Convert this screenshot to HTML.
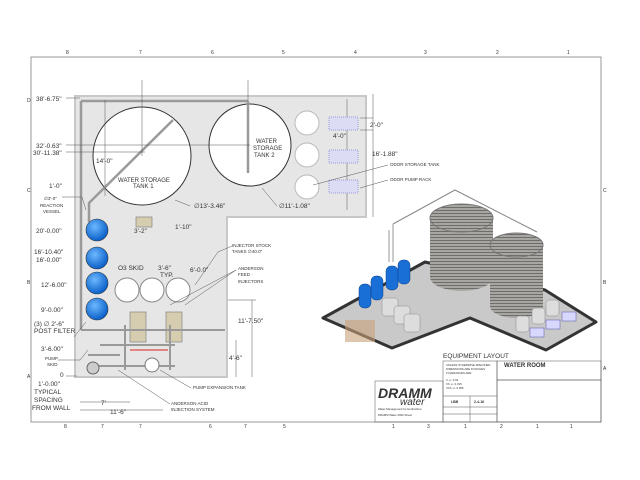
<!DOCTYPE html>
<html><head><style>
html,body{margin:0;padding:0;background:#fff}
svg{display:block}
text{font-family:"Liberation Sans",sans-serif;fill:#333}
</style></head><body>
<svg width="640" height="480" viewBox="0 0 640 480" xmlns="http://www.w3.org/2000/svg">
<defs>
<radialGradient id="bl" cx="40%" cy="35%" r="65%"><stop offset="0" stop-color="#6cb8ff"/><stop offset="1" stop-color="#0a5fc8"/></radialGradient>
<pattern id="st" width="4" height="3" patternUnits="userSpaceOnUse"><rect width="4" height="3" fill="#a8a6a2"/><rect width="4" height="1" fill="#6f6d69"/></pattern>
</defs>
<rect x="31" y="57" width="570" height="365" fill="none" stroke="#999" stroke-width="1"/>
<g font-size="5" fill="#666">
<text x="66" y="54">8</text><text x="139" y="54">7</text><text x="211" y="54">6</text><text x="282" y="54">5</text><text x="354" y="54">4</text><text x="424" y="54">3</text><text x="496" y="54">2</text><text x="567" y="54">1</text>
<text x="64" y="428">8</text><text x="101" y="428">7</text><text x="139" y="428">7</text><text x="209" y="428">6</text><text x="244" y="428">7</text><text x="283" y="428">5</text>
<text x="392" y="428">1</text><text x="427" y="428">3</text><text x="464" y="428">1</text><text x="500" y="428">2</text><text x="536" y="428">1</text><text x="570" y="428">1</text>
<text x="27" y="102">D</text><text x="27" y="192">C</text><text x="27" y="284">B</text><text x="27" y="378">A</text>
<text x="603" y="192">C</text><text x="603" y="284">B</text><text x="603" y="370">A</text>
</g>
<path d="M75,96 H366 V217 H227 V377 H75 Z" fill="#e6e6e6" stroke="#c8c8c8" stroke-width="2"/>
<path d="M81,101 H248 M81,101 V330" stroke="#9a9a9a" stroke-width="2.5" fill="none"/>
<circle cx="142" cy="156" r="49" fill="#fff" stroke="#333" stroke-width="1"/>
<circle cx="250" cy="145" r="41" fill="#fff" stroke="#333" stroke-width="1"/>
<path d="M173,120 L89,203 V222" stroke="#9a9a9a" stroke-width="2.5" fill="none"/>
<path d="M248,101 V173" stroke="#9a9a9a" stroke-width="2.5"/>
<g stroke="#555" stroke-width="0.5">
<line x1="142" y1="80" x2="142" y2="156"/><line x1="248" y1="80" x2="248" y2="101"/>
<line x1="66" y1="145" x2="250" y2="145"/><line x1="66" y1="152" x2="145" y2="152"/>
<line x1="105" y1="100" x2="105" y2="196"/>
<line x1="66" y1="98" x2="80" y2="98"/>
<line x1="373" y1="94" x2="373" y2="217"/><line x1="360" y1="118" x2="373" y2="118"/><line x1="360" y1="130" x2="373" y2="130"/>
<line x1="347" y1="99" x2="347" y2="210"/>
<line x1="252" y1="300" x2="252" y2="377"/><line x1="228" y1="300" x2="256" y2="300"/><line x1="236" y1="340" x2="236" y2="377"/>
<line x1="80" y1="402" x2="130" y2="402"/><line x1="80" y1="410" x2="163" y2="410"/>
<line x1="66" y1="376" x2="77" y2="376"/>
</g>
<g fill="#fff" stroke="#bbb"><circle cx="307" cy="123" r="12"/><circle cx="307" cy="155" r="12"/><circle cx="307" cy="187" r="12"/></g>
<g fill="#dcdcf5" stroke="#9a9ad8" stroke-dasharray="1 1"><rect x="329" y="117" width="29" height="13"/><rect x="329" y="150" width="29" height="13"/><rect x="329" y="180" width="29" height="13"/></g>
<g stroke="#333" stroke-width="0.6" fill="url(#bl)"><circle cx="97" cy="230" r="11"/><circle cx="97" cy="258" r="11"/><circle cx="97" cy="283" r="11"/><circle cx="97" cy="309" r="11"/></g>
<g fill="#fff" stroke="#888"><circle cx="127" cy="290" r="12"/><circle cx="152" cy="290" r="12"/><circle cx="178" cy="290" r="12"/></g>
<g stroke="#777" fill="#d6cdb0" stroke-width="0.6"><rect x="130" y="312" width="16" height="30"/><rect x="166" y="312" width="16" height="30"/><rect x="136" y="217" width="16" height="10"/></g>
<g stroke="#999" stroke-width="2" fill="none">
<path d="M81,330 H225 M100,345 H175 M95,366 H175 M125,325 V370 M170,325 V370 M88,355 H120"/>
</g>
<path d="M130,350 H168" stroke="#d22" stroke-width="1"/>
<circle cx="93" cy="368" r="6" fill="#ccc" stroke="#666"/><circle cx="152" cy="365" r="7" fill="#fff" stroke="#777"/>
<g font-size="6.5">
<text x="36" y="101">38'-6.75"</text><text x="36" y="148">32'-0.63"</text><text x="33" y="155">30'-11.38"</text>
<text x="49" y="188">1'-0"</text><text x="36" y="233">20'-0.00"</text><text x="34" y="254">16'-10.40"</text><text x="36" y="262">16'-0.00"</text>
<text x="41" y="287">12'-6.00"</text><text x="41" y="312">9'-0.00"</text><text x="34" y="326">(3) ∅ 2'-6"</text><text x="34" y="333">POST FILTER</text>
<text x="41" y="351">3'-6.00"</text><text x="60" y="377">0</text>
<text x="38" y="386">1'-0.00"</text><text x="34" y="394">TYPICAL</text><text x="34" y="402">SPACING</text><text x="32" y="410">FROM WALL</text>
<text x="96" y="163">14'-0"</text><text x="118" y="182" font-size="6">WATER STORAGE</text><text x="133" y="188" font-size="6">TANK 1</text>
<text x="256" y="143" font-size="6">WATER</text><text x="253" y="150" font-size="6">STORAGE</text><text x="254" y="157" font-size="6">TANK 2</text>
<text x="194" y="208">∅13'-3.46"</text><text x="279" y="208">∅11'-1.08"</text>
<text x="134" y="233">3'-2"</text><text x="175" y="229">1'-10"</text>
<text x="118" y="270">O3 SKID</text><text x="158" y="270">3'-6"</text><text x="160" y="277">TYP.</text><text x="190" y="272">6'-0.0"</text>
<text x="238" y="323">11'-7.50"</text><text x="229" y="360">4'-6"</text>
<text x="101" y="405">7'</text><text x="110" y="414">11'-6"</text>
<text x="333" y="138">4'-0"</text><text x="370" y="127">2'-0"</text><text x="372" y="156">16'-1.88"</text>
</g>
<g font-size="4.5">
<text x="44" y="200">∅3'-0"</text><text x="40" y="207">REACTION</text><text x="43" y="213">VESSEL</text>
<text x="45" y="360">PUMP</text><text x="47" y="366">SKID</text>
<text x="232" y="247">INJECTOR STOCK</text><text x="232" y="253">TANKS  ∅40.0"</text>
<text x="238" y="270">ANDERSON</text><text x="238" y="276">FEED</text><text x="238" y="283">INJECTORS</text>
<text x="193" y="389">PUMP EXPANSION TANK</text><text x="171" y="405">ANDERSON ACID</text><text x="171" y="411">INJECTION SYSTEM</text>
<text x="390" y="166">ODOR STORAGE TANK</text><text x="390" y="181">ODOR PUMP RACK</text>
</g>
<g stroke="#555" stroke-width="0.5" fill="none">
<path d="M62,197 L82,197 L86,210"/><path d="M74,337 L86,322"/><path d="M58,360 L80,360 L88,350"/>
<path d="M232,246 L218,252 L195,285"/><path d="M236,270 L170,305 M236,270 L185,305"/>
<path d="M191,388 L160,370"/><path d="M170,404 L118,370"/>
<path d="M388,165 L313,185"/><path d="M388,180 L360,188"/>
<path d="M190,206 L175,200"/><path d="M277,206 L262,188"/>
</g>
<!-- 3D view -->
<path d="M323,318 L425,262 L545,290 L596,322 L546,350 L470,318 L392,348 Z" fill="#c9c9c9" stroke="#333" stroke-width="3" stroke-linejoin="round"/>
<path d="M393,224 L455,190 L537,232" stroke="#888" fill="none"/>
<path d="M393,224 V262 M389,230 V262" stroke="#999" fill="none"/>
<path d="M430,218 V277 A31.5,14 0 0 0 493,277 V218 Z" fill="url(#st)"/>
<ellipse cx="461.5" cy="218" rx="31.5" ry="14" fill="url(#st)" stroke="#777"/>
<path d="M490,245 V306 A26.5,12 0 0 0 543,306 V245 Z" fill="url(#st)"/>
<ellipse cx="516.5" cy="245" rx="26.5" ry="12" fill="url(#st)" stroke="#777"/>
<g fill="#1a6fd6" stroke="#0a3f88" stroke-width="0.5"><rect x="359" y="284" width="12" height="24" rx="5"/><rect x="371" y="276" width="12" height="24" rx="5"/><rect x="386" y="266" width="12" height="24" rx="5"/><rect x="398" y="260" width="12" height="24" rx="5"/></g>
<g fill="#ddd" stroke="#888" stroke-width="0.5"><rect x="382" y="298" width="16" height="18" rx="3"/><rect x="394" y="306" width="16" height="18" rx="3"/><rect x="404" y="314" width="16" height="18" rx="3"/>
<rect x="516" y="316" width="13" height="16" rx="3"/><rect x="532" y="308" width="13" height="16" rx="3"/><rect x="546" y="300" width="13" height="16" rx="3"/></g>
<g fill="#d8d8ff" stroke="#55a" stroke-width="0.5"><rect x="530" y="328" width="14" height="9"/><rect x="546" y="320" width="14" height="9"/><rect x="562" y="312" width="14" height="9"/></g>
<rect x="345" y="320" width="30" height="22" fill="#c9a27a" opacity="0.6"/>
<text x="443" y="358" font-size="6.5">EQUIPMENT LAYOUT</text>
<g stroke="#555" stroke-width="0.5" fill="none">
<rect x="375" y="381" width="68" height="41"/><rect x="443" y="361" width="54" height="61"/><rect x="497" y="361" width="104" height="19"/><rect x="497" y="380" width="104" height="42"/>
<line x1="443" y1="396" x2="497" y2="396"/><line x1="443" y1="407" x2="497" y2="407"/><line x1="443" y1="414" x2="497" y2="414"/><line x1="470" y1="396" x2="470" y2="422"/>
</g>
<text x="504" y="367" font-size="6" font-weight="bold" fill="#222">WATER ROOM</text>
<text x="378" y="398" font-size="14" font-weight="bold" font-style="italic" fill="#1a3fb8">DRAMM</text>
<text x="400" y="405" font-size="10" font-style="italic" fill="#2a6fd6">water</text>
<g font-size="2.8" fill="#666"><text x="378" y="410">Water Management for Horticulture</text><text x="378" y="416">DRAMM Water 2000 Street</text>
<text x="446" y="366">UNLESS OTHERWISE SPECIFIED</text><text x="446" y="370">DIMENSIONS ARE IN INCHES</text><text x="446" y="374">TOLERANCES ARE:</text><text x="446" y="381">X +/- 0.03</text><text x="446" y="385">XX +/- 0.015</text><text x="446" y="389">XXX +/- 0.005</text></g>
<text x="451" y="403" font-size="3.5" font-weight="bold">LBB</text><text x="474" y="403" font-size="3.5" font-weight="bold">2-4-16</text>
</svg>
</body></html>
